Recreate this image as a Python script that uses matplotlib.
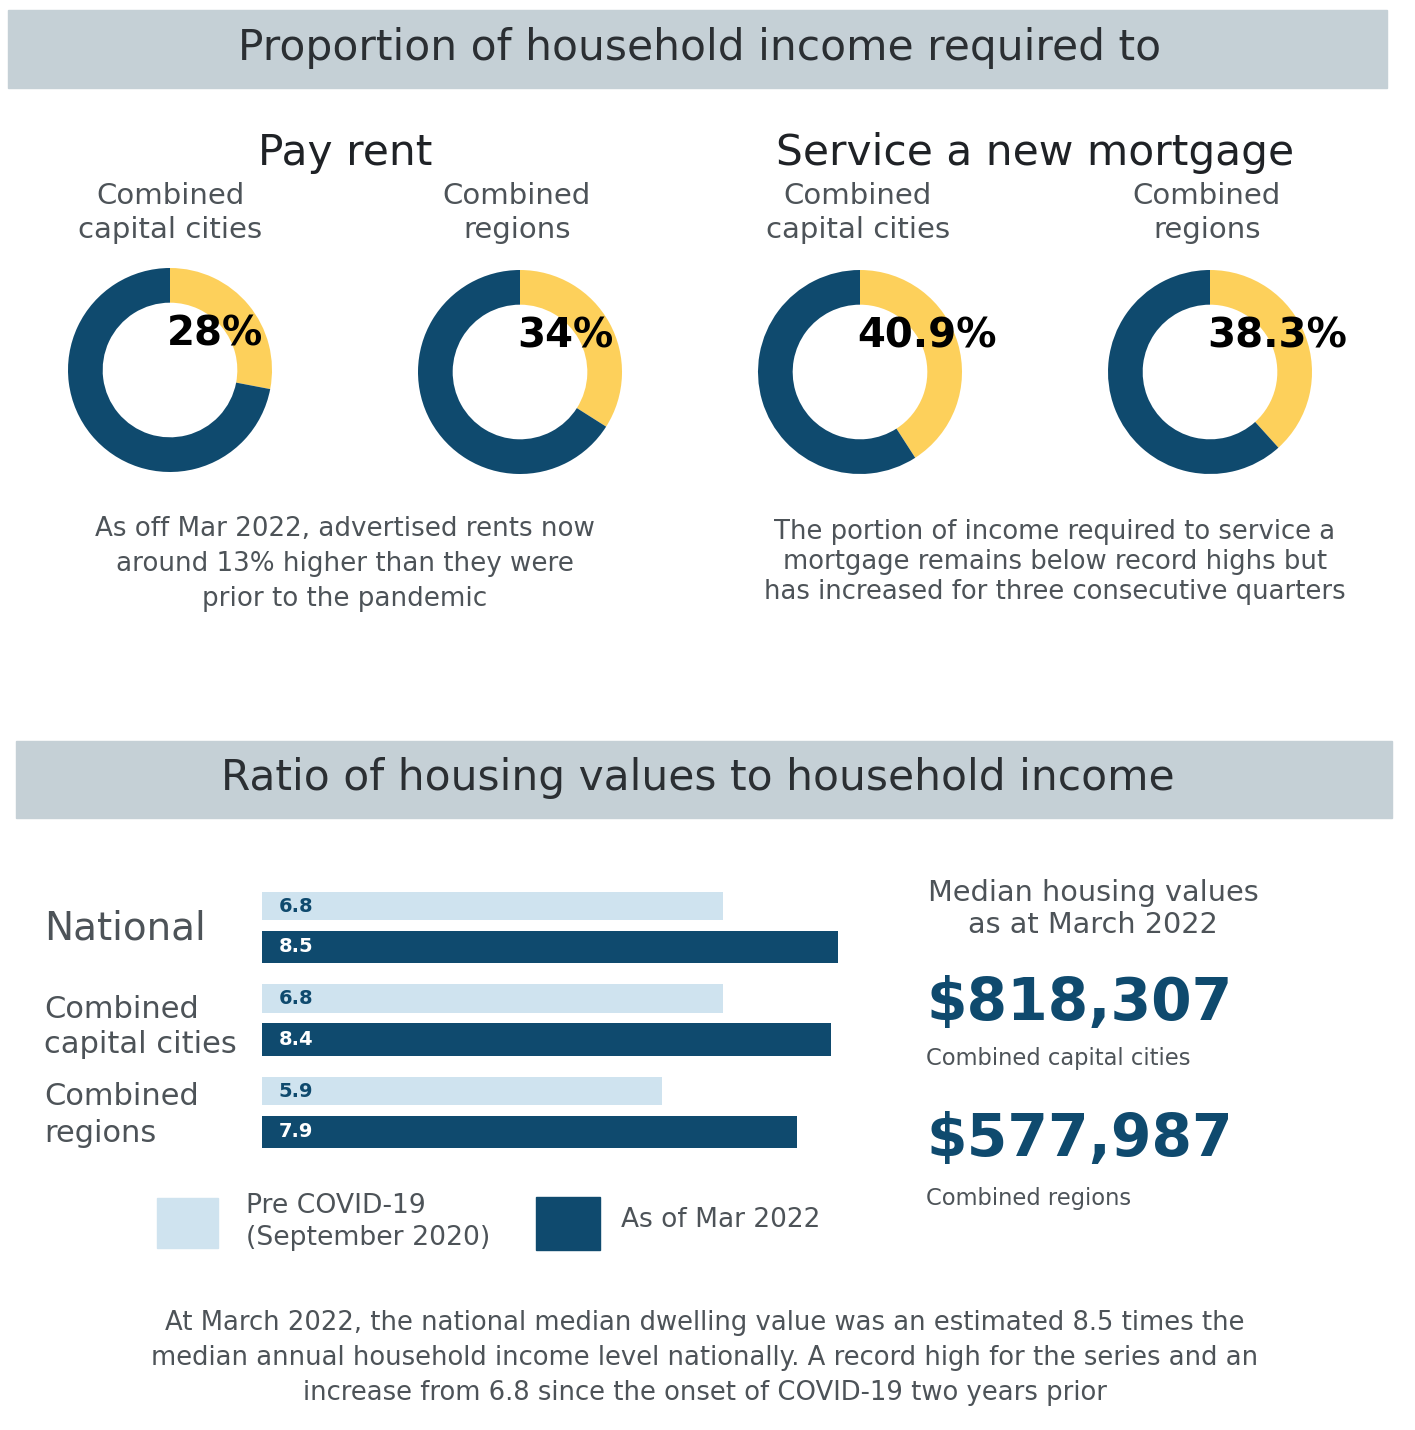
import numpy as np
import matplotlib.pyplot as plt
from matplotlib.patches import Rectangle

W, H = 1415, 1430

navy = "#0f4a6e"
yellow = "#fdd05b"
light = "#cfe3ef"
band = "#c5d0d6"
grey = "#4d5358"
dark = "#2b2f33"

# donut data
donut_groups = ["Pay rent", "Service a new mortgage"]
donut_labels = ["Combined\ncapital cities", "Combined\nregions",
                "Combined\ncapital cities", "Combined\nregions"]
donut_values = [28, 34, 40.9, 38.3]
donut_text = ["28%", "34%", "40.9%", "38.3%"]

# bar data
categories = ["National", "Combined\ncapital cities", "Combined\nregions"]
pre_covid = [6.8, 6.8, 5.9]
mar_2022 = [8.5, 8.4, 7.9]
series_names = ["Pre COVID-19\n(September 2020)", "As of Mar 2022"]

median_values = ["$818,307", "$577,987"]
median_labels = ["Combined capital cities", "Combined regions"]

plt.rcParams['font.family'] = ['DejaVu Sans']

fig = plt.figure(figsize=(W / 100, H / 100), dpi=100)


def fx(x):
    return x / W


def fy(y):
    return 1 - y / H


def px_axes(left, top, width, height):
    return fig.add_axes([fx(left), fy(top + height), width / W, height / H])


def txt(x, y, s, **kw):
    kw.setdefault("ha", "center")
    kw.setdefault("va", "center")
    kw.setdefault("color", grey)
    fig.text(fx(x), fy(y), s, **kw)


# header bands
for (x0, y0, x1, y1) in [(8, 10, 1387, 88), (16, 741, 1392, 818)]:
    fig.patches.append(Rectangle((fx(x0), fy(y1)), (x1 - x0) / W, (y1 - y0) / H,
                                 transform=fig.transFigure, color=band, zorder=0))
txt(700, 48, "Proportion of household income required to", fontsize=30.5, color=dark)
txt(698, 778, "Ratio of housing values to household income", fontsize=30.5, color=dark)

# donut section
txt(345, 153, donut_groups[0], fontsize=30.5, color="#1f2226")
txt(1035, 153, donut_groups[1], fontsize=30.5, color="#1f2226")

centers = [(170, 370), (520, 372), (860, 372), (1210, 372)]
label_x = [170, 517, 858, 1207]
R = 102
for i, (cx, cy) in enumerate(centers):
    ax = px_axes(cx - R, cy - R, 2 * R, 2 * R)
    v = donut_values[i]
    ax.pie([v, 100 - v], colors=[yellow, navy], startangle=90, counterclock=False,
           radius=1, wedgeprops=dict(width=0.34, linewidth=0))
    ax.set_xlim(-1, 1)
    ax.set_ylim(-1, 1)
    ax.set_aspect("equal")
    ax.axis("off")
    txt(cx - 3, cy - 36, donut_text[i], ha="left", fontsize=29, fontweight="bold",
        color="black")
    txt(label_x[i], 213, donut_labels[i], fontsize=21, linespacing=1.25)

txt(345, 564, "As off Mar 2022, advertised rents now\naround 13% higher than they were\nprior to the pandemic",
    fontsize=18.8, linespacing=1.45)
txt(1055, 562, "The portion of income required to service a\nmortgage remains below record highs but\nhas increased for three consecutive quarters",
    fontsize=18.6, linespacing=1.21)

# bar chart
ax = px_axes(262, 871, 640, 296)
y = np.arange(len(categories))
ax.barh(y - 0.22, pre_covid, height=0.31, color=light)
ax.barh(y + 0.22, mar_2022, height=0.35, color=navy)
for i in range(len(categories)):
    ax.text(0.24, y[i] - 0.22, f"{pre_covid[i]}", va="center", ha="left",
            fontsize=14, fontweight="bold", color=navy)
    ax.text(0.24, y[i] + 0.22, f"{mar_2022[i]}", va="center", ha="left",
            fontsize=14, fontweight="bold", color="white")
ax.set_xlim(0, 8.5 * 640 / 576)
ax.set_ylim(2.6, -0.6)
ax.axis("off")

txt(44, 928, categories[0], ha="left", fontsize=28)
txt(44, 1027, categories[1], ha="left", fontsize=22, linespacing=1.3)
txt(44, 1115, categories[2], ha="left", fontsize=22, linespacing=1.38)

# legend
for (x0, y0, x1, y1), c in [((157, 1198, 218, 1248), light), ((536, 1197, 600, 1250), navy)]:
    fig.patches.append(Rectangle((fx(x0), fy(y1)), (x1 - x0) / W, (y1 - y0) / H,
                                 transform=fig.transFigure, color=c, zorder=1))
txt(246, 1222, series_names[0], ha="left", fontsize=19.2, linespacing=1.26)
txt(621, 1220, series_names[1], ha="left", fontsize=19)

# median values
txt(1093, 909, "Median housing values\nas at March 2022", fontsize=20.7, linespacing=1.2)
txt(926, 1003, median_values[0], ha="left", fontsize=42, fontweight="bold", color=navy)
txt(926, 1059, median_labels[0], ha="left", fontsize=16.3)
txt(926, 1139, median_values[1], ha="left", fontsize=42, fontweight="bold", color=navy)
txt(926, 1198, median_labels[1], ha="left", fontsize=16.3)

txt(705, 1358, "At March 2022, the national median dwelling value was an estimated 8.5 times the\n"
    "median annual household income level nationally. A record high for the series and an\n"
    "increase from 6.8 since the onset of COVID-19 two years prior",
    fontsize=18.6, linespacing=1.45)

fig.savefig("out.png", dpi=100, facecolor="white")
